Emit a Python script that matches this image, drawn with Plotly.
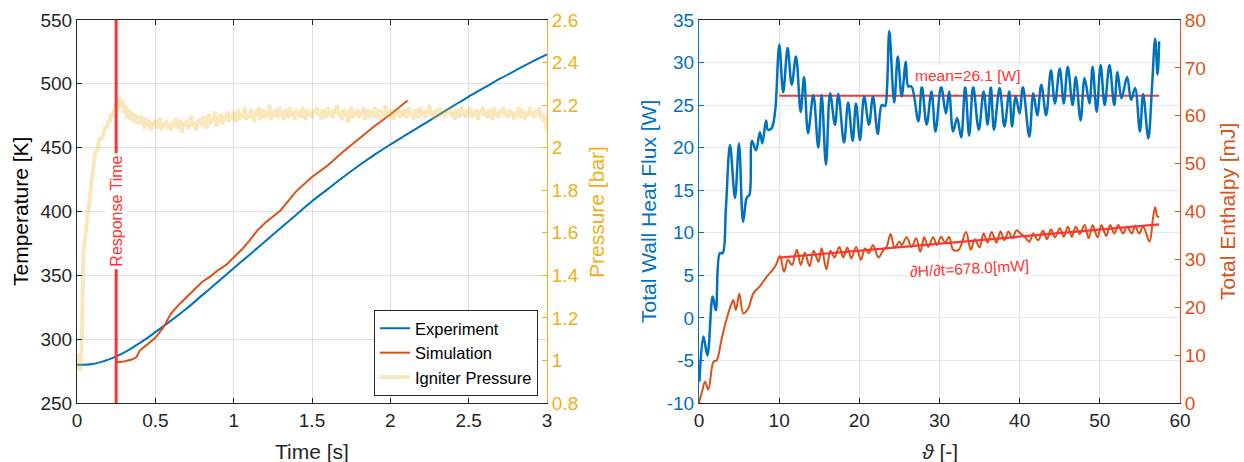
import plotly.graph_objects as go

# ---------------- Left panel: wall temperature and igniter pressure ----------------
exp_time = [0.0, 0.05, 0.1, 0.15, 0.2, 0.25, 0.3, 0.35, 0.4, 0.45, 0.5, 0.6, 0.7, 0.8, 0.9,
            1.0, 1.1, 1.2, 1.3, 1.4, 1.5, 1.6, 1.7, 1.8, 1.9, 2.0, 2.1, 2.2, 2.3, 2.4,
            2.5, 2.6, 2.7, 2.8, 2.9, 3.0]
exp_temp = [280.0, 280.0, 280.5, 282.0, 284.0, 286.5, 289.5, 293.0, 297.0, 301.0, 305.5,
            314.5, 324.0, 334.5, 345.0, 355.5, 366.0, 376.5, 387.0, 397.5, 408.0, 417.5,
            427.0, 436.0, 444.5, 452.5, 460.0, 467.5, 475.0, 482.5, 490.0, 497.0, 504.0,
            510.5, 517.0, 523.0]

sim_time = [0.25, 0.30, 0.35, 0.38, 0.40, 0.42, 0.45, 0.50, 0.55, 0.58, 0.60, 0.65, 0.70,
            0.75, 0.80, 0.85, 0.90, 0.95, 1.00, 1.05, 1.10, 1.15, 1.20, 1.30, 1.40, 1.50,
            1.60, 1.70, 1.80, 1.90, 2.00, 2.05, 2.11]
sim_temp = [282.0, 282.5, 284.0, 286.0, 291.0, 293.0, 296.0, 301.0, 309.0, 316.0, 320.0,
            327.0, 333.0, 339.0, 345.0, 349.0, 354.0, 358.0, 364.0, 370.0, 377.0, 385.0,
            391.0, 401.0, 416.0, 427.0, 436.0, 447.0, 457.0, 467.0, 476.0, 481.0, 487.0]

# igniter pressure [bar], sampled every 10 ms from t = 0
igniter_pressure = [
    0.96, 1.03, 0.95, 1.06, 1.50, 1.59, 1.63, 1.70, 1.77, 1.84,
    1.90, 1.94, 1.99, 1.98, 2.03, 2.05, 2.04, 2.08, 2.10, 2.09,
    2.13, 2.12, 2.16, 2.15, 2.20, 2.22, 2.18, 2.24, 2.19, 2.22,
    2.16, 2.20, 2.14, 2.18, 2.13, 2.17, 2.12, 2.16, 2.11, 2.15,
    2.11, 2.15, 2.12, 2.09, 2.14, 2.10, 2.13, 2.08, 2.12, 2.10,
    2.13, 2.09, 2.11, 2.14, 2.08, 2.12, 2.10, 2.13, 2.09, 2.11,
    2.08, 2.12, 2.10, 2.14, 2.09, 2.11, 2.13, 2.07, 2.12, 2.10,
    2.13, 2.09, 2.12, 2.15, 2.10, 2.12, 2.08, 2.13, 2.11, 2.14,
    2.10, 2.15, 2.12, 2.09, 2.16, 2.11, 2.14, 2.12, 2.17, 2.10,
    2.14, 2.12, 2.16, 2.11, 2.15, 2.13, 2.17, 2.12, 2.15, 2.13,
    2.17, 2.12, 2.15, 2.18, 2.13, 2.16, 2.14, 2.19, 2.13, 2.16,
    2.14, 2.18, 2.15, 2.12, 2.17, 2.15, 2.19, 2.13, 2.16, 2.18,
    2.14, 2.17, 2.15, 2.20, 2.13, 2.17, 2.15, 2.18, 2.14, 2.19,
    2.15, 2.17, 2.13, 2.18, 2.16, 2.14, 2.19, 2.15, 2.17, 2.13,
    2.18, 2.15, 2.17, 2.14, 2.19, 2.16, 2.13, 2.18, 2.15, 2.17,
    2.14, 2.18, 2.16, 2.19, 2.15, 2.17, 2.13, 2.18, 2.16, 2.14,
    2.19, 2.15, 2.17, 2.14, 2.18, 2.16, 2.20, 2.15, 2.17, 2.13,
    2.18, 2.15, 2.17, 2.12, 2.16, 2.19, 2.14, 2.17, 2.15, 2.18,
    2.14, 2.17, 2.15, 2.19, 2.13, 2.16, 2.18, 2.14, 2.17, 2.15,
    2.19, 2.14, 2.16, 2.18, 2.13, 2.17, 2.15, 2.20, 2.14, 2.17,
    2.15, 2.18, 2.13, 2.17, 2.16, 2.19, 2.14, 2.17, 2.15, 2.18,
    2.14, 2.16, 2.19, 2.15, 2.17, 2.13, 2.18, 2.16, 2.14, 2.19,
    2.15, 2.17, 2.14, 2.18, 2.16, 2.20, 2.15, 2.17, 2.13, 2.18,
    2.16, 2.14, 2.19, 2.15, 2.17, 2.14, 2.18, 2.16, 2.19, 2.15,
    2.17, 2.13, 2.18, 2.16, 2.14, 2.19, 2.15, 2.17, 2.14, 2.18,
    2.16, 2.19, 2.14, 2.17, 2.15, 2.18, 2.13, 2.17, 2.16, 2.19,
    2.15, 2.17, 2.14, 2.18, 2.16, 2.13, 2.19, 2.15, 2.17, 2.14,
    2.18, 2.16, 2.19, 2.15, 2.17, 2.14, 2.18, 2.15, 2.17, 2.13,
    2.17, 2.15, 2.19, 2.14, 2.18, 2.16, 2.13, 2.17, 2.15, 2.19,
    2.15, 2.17, 2.14, 2.18, 2.16, 2.19, 2.14, 2.16, 2.12, 2.15,
    2.08,
]
pressure_dt = 0.01
pressure_time = [i * pressure_dt for i in range(len(igniter_pressure))]

response_time = 0.25

# ---------------- Right panel: wall heat flux and total enthalpy ----------------
flux_theta = [0.05, 0.55, 1.05, 1.7, 2.1, 2.6, 2.95, 3.35, 3.87, 4.49, 4.99, 5.5, 5.95,
              6.3, 6.6, 7.1, 7.6, 7.9, 8.36, 8.6, 9.0, 9.3, 9.55, 10.02, 10.5, 11.06,
              11.56, 12.1, 12.68, 13.1, 13.6, 14.26, 14.88, 15.3, 15.84, 16.35, 16.96,
              17.38, 18.09, 18.6, 19.17, 19.58, 20.08, 20.6, 21.2, 21.7, 22.3, 22.8,
              23.2, 23.45, 23.74, 24.35, 24.8, 25.28, 25.8, 26.1, 26.5, 27.36, 27.8,
              28.4, 29.0, 29.5, 30.2, 30.8, 31.2, 31.7, 32.2, 32.7, 33.2, 33.7, 34.2,
              34.9, 35.5, 36.0, 36.4, 36.8, 37.5, 38.1, 38.7, 39.05, 39.5, 40.0, 40.4,
              41.2, 41.7, 42.2, 42.7, 43.3, 43.9, 44.4, 45.0, 45.5, 46.0, 46.6, 47.0,
              47.6, 48.1, 48.7, 49.1, 49.6, 50.1, 50.6, 51.2, 51.8, 52.2, 52.7, 53.4,
              53.9, 54.4, 55.0, 55.4, 56.05, 56.5, 56.9, 57.2, 57.4]
wall_heat_flux = [-7.5, -2.2, -4.4, 2.5, 0.9, 7.6, 7.6, 12.8, 20.3, 14.1, 20.5, 11.3, 14.1,
                  14.5, 20.8, 19.7, 21.8, 20.5, 23.2, 22.1, 22.2, 23.0, 24.8, 32.1, 26.5,
                  31.7, 27.4, 30.7, 24.2, 28.3, 21.7, 26.2, 20.0, 26.2, 18.0, 26.4, 22.7,
                  26.3, 20.6, 25.3, 20.8, 25.2, 20.9, 26.0, 22.7, 26.0, 21.6, 25.0, 24.9,
                  27.0, 33.7, 25.3, 30.7, 26.0, 30.1, 27.2, 27.2, 23.1, 27.2, 22.7, 26.6,
                  21.9, 27.2, 24.0, 26.6, 21.9, 23.5, 21.2, 27.2, 21.4, 27.2, 22.1, 26.6,
                  22.7, 27.2, 22.1, 27.0, 22.5, 26.6, 22.5, 26.0, 24.0, 27.2, 21.3, 26.4,
                  23.8, 27.4, 23.8, 29.1, 25.2, 29.3, 25.2, 29.5, 25.0, 28.3, 23.2, 28.2,
                  25.2, 29.5, 24.2, 29.7, 25.0, 29.7, 25.0, 28.9, 25.8, 28.3, 25.6, 27.0,
                  21.9, 26.3, 21.1, 27.0, 32.8, 28.6, 32.5]

enth_theta = [0.0, 0.4, 0.75, 1.17, 1.8, 2.2, 2.8, 3.4, 4.0, 4.28, 4.6, 5.03, 5.53, 6.15,
              6.78, 7.6, 8.45, 9.5, 10.1, 10.6, 11.1, 11.6, 12.2, 12.7, 13.2, 13.8, 14.3,
              14.9, 15.3, 15.9, 16.4, 16.9, 17.5, 18.0, 18.5, 19.0, 19.6, 20.2, 20.7,
              21.2, 21.7, 22.4, 23.0, 23.4, 23.9, 24.4, 25.0, 25.3, 25.9, 26.5, 27.1,
              27.6, 28.1, 28.6, 29.2, 29.7, 30.2, 30.7, 31.2, 31.7, 32.4, 33.3, 33.9,
              34.4, 35.0, 35.5, 36.0, 36.5, 37.1, 37.6, 38.1, 38.6, 39.1, 39.6, 40.1,
              40.7, 41.2, 41.7, 42.3, 42.9, 43.4, 43.9, 44.4, 45.0, 45.5, 46.0, 46.5,
              47.0, 47.5, 48.1, 48.6, 49.1, 49.7, 50.2, 50.8, 51.3, 51.8, 52.3, 52.9,
              53.4, 54.0, 54.4, 54.9, 55.4, 56.2, 56.6, 56.9, 57.2, 57.4]
total_enthalpy = [0.0, 2.5, 4.45, 2.8, 8.6, 8.9, 13.2, 17.3, 20.5, 21.5, 19.4, 22.8, 18.7,
                  19.8, 22.9, 24.4, 26.4, 28.5, 30.7, 27.4, 29.9, 28.8, 32.0, 28.8, 31.4,
                  28.6, 31.8, 29.5, 32.3, 27.9, 31.8, 30.4, 32.6, 30.4, 32.5, 30.2, 32.6,
                  29.9, 32.3, 31.3, 33.0, 30.4, 32.0, 32.6, 35.3, 32.5, 33.7, 33.0, 34.6,
                  32.6, 34.4, 31.6, 34.6, 32.6, 34.6, 33.0, 34.7, 33.5, 34.7, 32.0, 32.0,
                  35.7, 32.0, 34.2, 32.5, 35.4, 33.5, 35.7, 33.5, 35.8, 34.0, 35.8, 34.4,
                  36.1, 35.4, 34.6, 33.7, 35.4, 34.0, 36.0, 34.2, 36.3, 34.6, 36.5, 34.7,
                  36.8, 34.7, 36.8, 35.3, 37.2, 34.4, 37.2, 34.6, 37.2, 34.9, 37.2, 35.4,
                  37.2, 35.4, 36.8, 35.4, 37.0, 35.4, 36.8, 33.7, 38.2, 40.9, 38.9, 39.0]

# averaging window and results of the post-processing
window_theta = [10.0, 57.4]
mean_flux = 26.1
fit_enthalpy = [30.35, 37.3]
enthalpy_rate_mw = 678.0

# ---------------- styling ----------------
W, H = 1244, 462
FONT = "Liberation Sans, Arial, Helvetica, sans-serif"
DARK = "#262626"
BLUE = "#0072BD"
ORANGE = "#D95319"
YELLOW = "#EDB120"
RED = "#FF3333"
GRID = "#DFDFDF"
TICK_SIZE = 19
LABEL_SIZE = 21


def fx(px):
    return px / W


def fy(py):
    return 1 - py / H


plot_y = [fy(403), fy(20)]

fig = go.Figure()

# left panel traces
fig.add_trace(go.Scatter(x=exp_time, y=exp_temp, name="Experiment", mode="lines",
                         line=dict(color=BLUE, width=2, shape="spline"),
                         xaxis="x", yaxis="y"))
fig.add_trace(go.Scatter(x=sim_time, y=sim_temp, name="Simulation", mode="lines",
                         line=dict(color=ORANGE, width=2),
                         xaxis="x", yaxis="y"))
fig.add_trace(go.Scatter(x=pressure_time, y=igniter_pressure, name="Igniter Pressure",
                         mode="lines", line=dict(color="rgba(237,177,32,0.3)", width=4),
                         xaxis="x", yaxis="y2"))

# right panel traces
fig.add_trace(go.Scatter(x=window_theta, y=[mean_flux, mean_flux], mode="lines",
                         line=dict(color=RED, width=2.2), showlegend=False,
                         xaxis="x2", yaxis="y3"))
fig.add_trace(go.Scatter(x=flux_theta, y=wall_heat_flux, mode="lines",
                         line=dict(color=BLUE, width=2.5, shape="spline", smoothing=1.0),
                         showlegend=False, xaxis="x2", yaxis="y3"))
fig.add_trace(go.Scatter(x=enth_theta, y=total_enthalpy, mode="lines",
                         line=dict(color=ORANGE, width=2, shape="spline", smoothing=1.0),
                         showlegend=False, xaxis="x2", yaxis="y4"))
fig.add_trace(go.Scatter(x=window_theta, y=fit_enthalpy, mode="lines",
                         line=dict(color=RED, width=2.2), showlegend=False,
                         xaxis="x2", yaxis="y4"))


def axis_style(color, grid=True, gridcolor=GRID):
    return dict(showline=True, linecolor=color, linewidth=1, ticks="inside", ticklen=5,
                tickwidth=1, tickcolor=color, showgrid=grid, gridcolor=gridcolor,
                gridwidth=1, zeroline=False, automargin=False,
                tickfont=dict(family=FONT, size=TICK_SIZE, color=color))


layout = dict(
    width=W, height=H,
    margin=dict(l=0, r=0, t=0, b=0, pad=0),
    paper_bgcolor="white", plot_bgcolor="white",
    font=dict(family=FONT, color=DARK),
    xaxis=dict(domain=[fx(77), fx(547)], anchor="y", range=[0, 3], dtick=0.5,
               mirror="ticks", **axis_style(DARK)),
    yaxis=dict(domain=plot_y, anchor="x", range=[250, 550], dtick=50,
               **axis_style(DARK)),
    yaxis2=dict(overlaying="y", side="right", anchor="x", range=[0.8, 2.6], dtick=0.2,
                **axis_style(YELLOW, grid=False)),
    xaxis2=dict(domain=[fx(699), fx(1180)], anchor="y3", range=[0, 60], dtick=10,
                mirror="ticks", **axis_style(DARK)),
    yaxis3=dict(domain=plot_y, anchor="x2", range=[-10, 35],
                tickvals=[-10, -5, 0, 5, 10, 15, 20, 25, 30, 35],
                ticktext=["-10", "-5", "0", "5", "10", "15", "20", "25", "30", "35"],
                **axis_style(BLUE, gridcolor="#DCEAF5")),
    yaxis4=dict(overlaying="y3", side="right", anchor="x2", range=[0, 80], dtick=10,
                **axis_style(ORANGE, grid=False)),
    legend=dict(x=fx(538), xanchor="right", y=fy(396), yanchor="bottom",
                bgcolor="white", bordercolor=DARK, borderwidth=1,
                font=dict(family=FONT, size=16.5, color="black"),
                itemwidth=30, tracegroupgap=0),
    showlegend=True,
)
fig.update_layout(**layout)

# response-time marker spanning the full temperature axis
fig.add_shape(type="line", xref="x", yref="y domain", x0=response_time, x1=response_time,
              y0=0, y1=1, line=dict(color=RED, width=3), layer="above")

annotations = [
    # axis titles
    dict(text="Temperature [K]", x=fx(20), y=fy(212), textangle=-90,
         font=dict(size=LABEL_SIZE, color="black")),
    dict(text="Pressure [bar]", x=fx(596), y=fy(212), textangle=-90,
         font=dict(size=LABEL_SIZE, color=YELLOW)),
    dict(text="Time [s]", x=fx(312), y=fy(451),
         font=dict(size=LABEL_SIZE, color=DARK)),
    dict(text="Total Wall Heat Flux [W]", x=fx(648), y=fy(212), textangle=-90,
         font=dict(size=LABEL_SIZE, color=BLUE)),
    dict(text="Total Enthalpy [mJ]", x=fx(1227), y=fy(212), textangle=-90,
         font=dict(size=LABEL_SIZE, color=ORANGE)),
    dict(text="<i>ϑ</i> [-]", x=fx(940), y=fy(451),
         font=dict(size=LABEL_SIZE, color=DARK)),
]
for a in annotations:
    a.update(xref="paper", yref="paper", showarrow=False, xanchor="center",
             yanchor="middle")
    a["font"]["family"] = FONT
    fig.add_annotation(**a)

# in-plot labels
fig.add_annotation(text="Response Time", x=response_time, y=400, xref="x", yref="y",
                   textangle=-90, showarrow=False, bgcolor="white", borderpad=2,
                   font=dict(family=FONT, size=16, color=RED))
fig.add_annotation(text=f"mean={mean_flux:.1f} [W]", x=33.55, y=28.5, xref="x2", yref="y3",
                   showarrow=False, bgcolor="white", borderpad=2,
                   font=dict(family=FONT, size=15.5, color=RED))
fig.add_annotation(text=f"∂H/∂t={enthalpy_rate_mw:.1f}[mW]", x=33.7, y=28.0, xref="x2",
                   yref="y4", textangle=-3, showarrow=False, bgcolor="white", borderpad=2,
                   font=dict(family=FONT, size=15.5, color=RED))

fig.write_html("out.html")
